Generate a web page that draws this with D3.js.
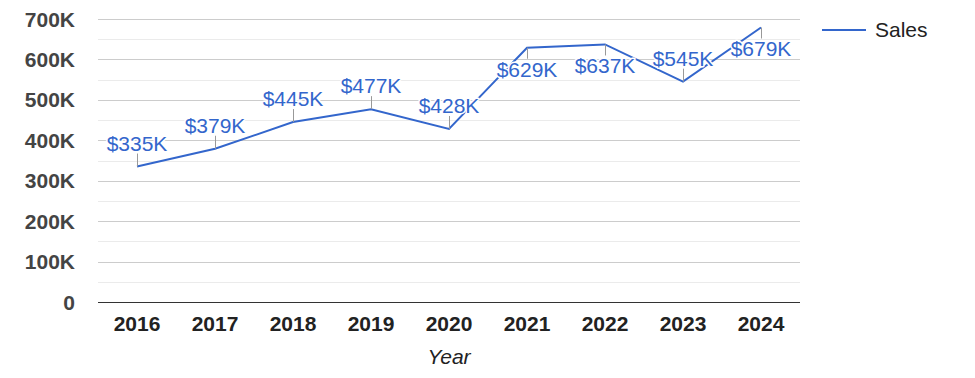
<!DOCTYPE html>
<html>
<head>
<meta charset="utf-8">
<script src="https://cdn.jsdelivr.net/npm/d3@7"></script>
<style>
  body { margin: 0; background: #fff; }
  svg { display: block; font-family: Arial, "Liberation Sans", sans-serif; }
</style>
</head>
<body>
<div id="chart"></div>
<script>
const years = ["2016", "2017", "2018", "2019", "2020", "2021", "2022", "2023", "2024"];
const sales = [335, 379, 445, 477, 428, 629, 637, 545, 679];
const yTicks = [0, 100, 200, 300, 400, 500, 600, 700];
const yMinor = [50, 150, 250, 350, 450, 550, 650];
const seriesName = "Sales";
const xTitle = "Year";

let w = 975;
let h = 378;
let plotLeft = 98, plotRight = 800, plotTop = 19, plotBottom = 302;
let color = "#3366cc";

let svg = d3.select("#chart")
  .append("svg")
    .attr("width", w)
    .attr("height", h);

// scales
let xScale = d3.scaleBand()
  .domain(years)
  .range([plotLeft, plotRight]);
let yScale = d3.scaleLinear()
  .domain([0, 700])
  .range([plotBottom, plotTop]);

// gridlines
svg.append("g")
  .selectAll("line")
  .data(yMinor)
  .join("line")
    .attr("x1", plotLeft).attr("x2", plotRight)
    .attr("y1", d => Math.round(yScale(d)) + 0.5).attr("y2", d => Math.round(yScale(d)) + 0.5)
    .attr("stroke", "#ebebeb");
svg.append("g")
  .selectAll("line")
  .data(yTicks.filter(d => d > 0))
  .join("line")
    .attr("x1", plotLeft).attr("x2", plotRight)
    .attr("y1", d => Math.round(yScale(d)) + 0.5).attr("y2", d => Math.round(yScale(d)) + 0.5)
    .attr("stroke", "#cccccc");

// y labels
svg.append("g")
  .selectAll("text")
  .data(yTicks)
  .join("text")
    .attr("x", 75)
    .attr("y", d => yScale(d) + 7.5)
    .attr("text-anchor", "end")
    .attr("font-size", "21px")
    .attr("font-weight", "bold")
    .attr("fill", "#444")
    .text(d => d === 0 ? "0" : d + "K");

// baseline
svg.append("line")
  .attr("x1", plotLeft).attr("x2", plotRight)
  .attr("y1", yScale(0) + 0.5).attr("y2", yScale(0) + 0.5)
  .attr("stroke", "#333");

// x labels
let xAxis = d3.axisBottom(xScale).tickSize(0).tickPadding(0);
let gx = svg.append("g")
  .attr("transform", "translate(0,331)")
  .call(xAxis);
gx.select(".domain").remove();
gx.selectAll("text")
  .attr("dy", null)
  .attr("font-size", "21px")
  .attr("font-weight", "bold")
  .attr("fill", "#222")
  .attr("font-family", "Arial, 'Liberation Sans', sans-serif");

svg.append("text")
  .attr("x", xScale("2020") + xScale.bandwidth() / 2)
  .attr("y", 364)
  .attr("text-anchor", "middle")
  .attr("font-size", "21px")
  .attr("font-style", "italic")
  .attr("fill", "#222")
  .text(xTitle);

let cx = (d, i) => xScale(years[i]) + xScale.bandwidth() / 2;
// labels flip under the point near the top of the plot
let below = d => d > 600;

// line
let line = d3.line()
  .x((d, i) => cx(d, i))
  .y(d => yScale(d));
svg.append("path")
  .datum(sales)
  .attr("d", line)
  .attr("fill", "none")
  .attr("stroke", color)
  .attr("stroke-width", 2);

// annotations: stem + value
let ann = svg.append("g");
ann.selectAll("line")
  .data(sales)
  .join("line")
    .attr("x1", (d, i) => Math.round(cx(d, i)) + 0.5).attr("x2", (d, i) => Math.round(cx(d, i)) + 0.5)
    .attr("y1", d => yScale(d)).attr("y2", d => below(d) ? yScale(d) + 11 : yScale(d) - 13)
    .attr("stroke", "#999")
    .attr("stroke-width", 1);
ann.selectAll("text")
  .data(sales)
  .join("text")
    .attr("x", (d, i) => cx(d, i))
    .attr("y", d => below(d) ? yScale(d) + 29 : yScale(d) - 16)
    .attr("text-anchor", "middle")
    .attr("font-size", "21px")
    .attr("fill", color)
    .attr("stroke", "#fff")
    .attr("stroke-width", 3)
    .attr("stroke-linejoin", "round")
    .attr("paint-order", "stroke")
    .text(d => "$" + d + "K");

// legend
svg.append("line")
  .attr("x1", 822).attr("x2", 866)
  .attr("y1", 30).attr("y2", 30)
  .attr("stroke", color)
  .attr("stroke-width", 2);
svg.append("text")
  .attr("x", 875)
  .attr("y", 37)
  .attr("font-size", "21px")
  .attr("fill", "#222")
  .text(seriesName);
</script>
</body>
</html>
